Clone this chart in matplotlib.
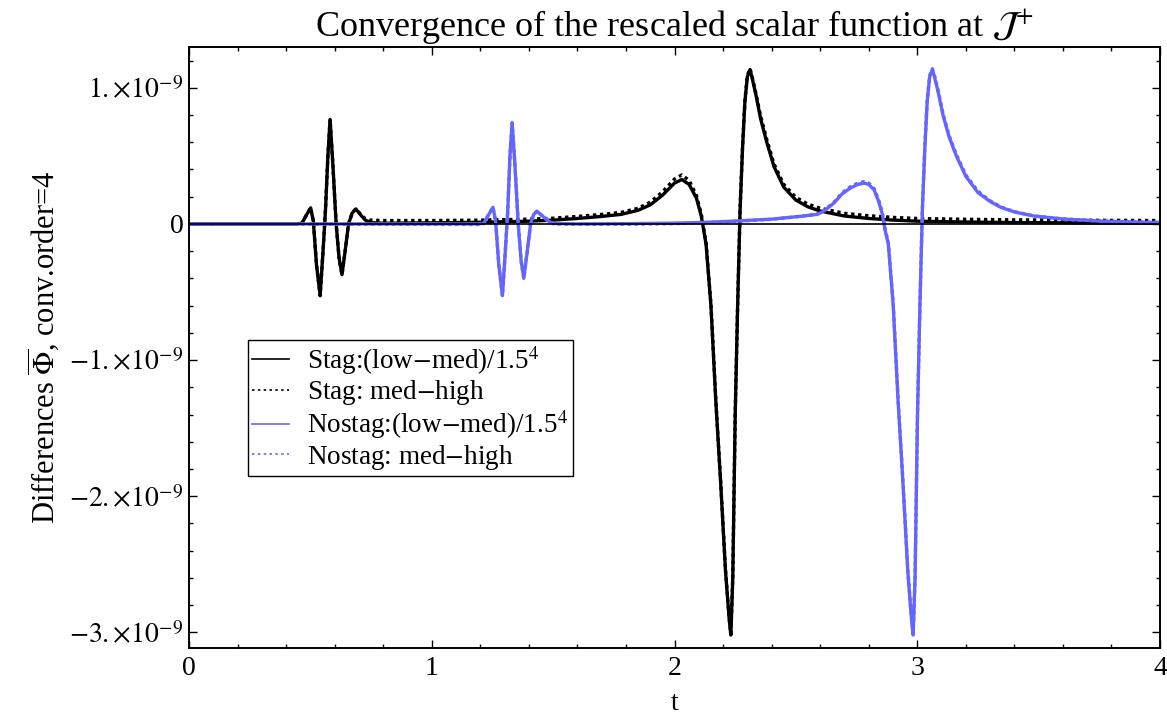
import matplotlib
matplotlib.use('Agg')
import matplotlib.pyplot as plt
import numpy as np
from matplotlib.ticker import MultipleLocator
from matplotlib.lines import Line2D

plt.rcParams['font.family'] = ['Liberation Serif', 'DejaVu Serif']
plt.rcParams['mathtext.fontset'] = 'stix'

# values in units of 1e-9
stag_t = [0, 0.44, 0.465, 0.485, 0.501, 0.512, 0.525, 0.540, 0.552, 0.562, 0.572, 0.581,
          0.592, 0.606, 0.618, 0.630, 0.643, 0.657, 0.672, 0.687, 0.705, 0.725, 0.746, 0.8,
          1.0, 1.2, 1.4, 1.5, 1.6, 1.7, 1.78, 1.85, 1.9, 1.95, 2.0, 2.03, 2.06, 2.09, 2.11,
          2.13, 2.15, 2.17, 2.19, 2.21, 2.225, 2.232, 2.24, 2.25, 2.26, 2.27, 2.28, 2.29,
          2.30, 2.311, 2.32, 2.335, 2.355, 2.38, 2.41, 2.45, 2.5, 2.55, 2.6, 2.7, 2.8, 2.9,
          3.0, 3.2, 3.4, 3.6, 3.8, 4.0]
stag_lowmed = [0, 0, 0.005, 0.07, 0.118, 0.02, -0.3, -0.527, -0.2, 0.1, 0.5, 0.767,
               0.45, 0.0, -0.25, -0.373, -0.2, 0.0, 0.08, 0.11, 0.07, 0.03, 0.01, 0.005,
               0.008, 0.012, 0.02, 0.028, 0.04, 0.055, 0.07, 0.1, 0.14, 0.21, 0.3, 0.326, 0.29, 0.19, 0.06,
               -0.15, -0.6, -1.3, -1.9, -2.55, -2.9, -3.02, -2.6, -1.4, -0.6, 0.1, 0.55, 0.9,
               1.08, 1.134, 1.07, 0.95, 0.77, 0.6, 0.42, 0.27, 0.175, 0.125, 0.095, 0.058, 0.04, 0.028,
               0.02, 0.014, 0.01, 0.008, 0.006, 0.005]
stag_medhigh = [0, 0, 0.005, 0.07, 0.118, 0.02, -0.3, -0.527, -0.2, 0.1, 0.5, 0.767,
                0.45, 0.0, -0.25, -0.373, -0.2, 0.0, 0.08, 0.11, 0.075, 0.04, 0.028, 0.025,
                0.025, 0.028, 0.035, 0.042, 0.055, 0.07, 0.085, 0.115, 0.16, 0.235, 0.33, 0.36, 0.32, 0.21, 0.075,
                -0.14, -0.59, -1.29, -1.89, -2.54, -2.89, -3.01, -2.59, -1.39, -0.59, 0.11, 0.56, 0.91,
                1.09, 1.14, 1.08, 0.96, 0.79, 0.62, 0.44, 0.29, 0.195, 0.145, 0.115, 0.078, 0.06, 0.048,
                0.04, 0.034, 0.03, 0.028, 0.026, 0.025]

nostag_t = [0, 1.19, 1.214, 1.235, 1.252, 1.263, 1.276, 1.291, 1.303, 1.313, 1.322, 1.331,
            1.342, 1.356, 1.368, 1.379, 1.392, 1.407, 1.42, 1.433, 1.455, 1.48, 1.502, 1.6,
            1.8, 2.0, 2.1, 2.24, 2.4, 2.52, 2.588, 2.62, 2.657, 2.69, 2.726, 2.755, 2.781,
            2.80, 2.822, 2.84, 2.855, 2.868, 2.881, 2.901, 2.921, 2.941, 2.961, 2.976, 2.983,
            2.991, 3.001, 3.011, 3.021, 3.031, 3.041, 3.051, 3.062, 3.071, 3.086, 3.106, 3.131,
            3.161, 3.2, 3.25, 3.3, 3.344, 3.4, 3.48, 3.6, 3.757, 3.9, 4.0]
nostag_lowmed = [0, 0, 0.005, 0.07, 0.122, 0.02, -0.3, -0.527, -0.2, 0.1, 0.5, 0.742,
                 0.45, 0.0, -0.27, -0.40, -0.22, 0.0, 0.07, 0.093, 0.06, 0.02, 0.003, 0.0,
                 0.002, 0.006, 0.01, 0.02, 0.035, 0.056, 0.07, 0.1, 0.154, 0.22, 0.265, 0.29, 0.30,
                 0.29, 0.25, 0.17, 0.08, -0.05, -0.15, -0.6, -1.3, -1.9, -2.55, -2.9, -3.02,
                 -2.6, -1.4, -0.6, 0.1, 0.55, 0.9, 1.08, 1.134, 1.08, 0.97, 0.8, 0.64,
                 0.5, 0.35, 0.23, 0.165, 0.122, 0.088, 0.058, 0.036, 0.02, 0.013, 0.01]
nostag_medhigh = [0, -0.004, 0.001, 0.07, 0.122, 0.02, -0.3, -0.527, -0.2, 0.1, 0.5, 0.742,
                  0.45, 0.0, -0.27, -0.40, -0.22, 0.0, 0.07, 0.093, 0.06, 0.02, 0.0, -0.003,
                  -0.002, 0.002, 0.007, 0.018, 0.034, 0.056, 0.072, 0.105, 0.16, 0.228, 0.275, 0.30, 0.31,
                  0.30, 0.26, 0.18, 0.09, -0.04, -0.14, -0.59, -1.29, -1.89, -2.54, -2.89, -3.01,
                  -2.59, -1.39, -0.59, 0.11, 0.56, 0.91, 1.09, 1.14, 1.09, 0.98, 0.81, 0.65,
                  0.51, 0.36, 0.24, 0.17, 0.125, 0.09, 0.059, 0.037, 0.021, 0.014, 0.011]

ytick_vals = [-3e-9, -2e-9, -1e-9, 0, 1e-9]
ytick_labels = [r'$-3.{\times}10^{-9}$', r'$-2.{\times}10^{-9}$', r'$-1.{\times}10^{-9}$', '0',
                r'$1.{\times}10^{-9}$']
labels = ['Stag:(low$-$med)/1.5$^4$', 'Stag: med$-$high',
          'Nostag:(low$-$med)/1.5$^4$', 'Nostag: med$-$high']

blue = '#6464ff'
fs = 20

fig = plt.figure(figsize=(11.67, 7.22), dpi=100)
ax = fig.add_axes([0.162, 0.1025, 0.832, 0.8325])

sc = 1e-9
ax.plot(stag_t, np.array(stag_lowmed) * sc, color='black', lw=2.4)
ax.plot(stag_t, np.array(stag_medhigh) * sc, color='black', lw=2.4, dashes=(1, 1.1))
ax.plot(nostag_t, np.array(nostag_lowmed) * sc, color=blue, lw=2.4)
ax.plot(nostag_t, np.array(nostag_medhigh) * sc, color=blue, lw=2.4, dashes=(1, 1.1))
ax.axhline(0, color='black', lw=1.2, zorder=5)

ax.set_xlim(0, 4)
ax.set_ylim(-3.115e-9, 1.30e-9)
ax.set_xticks([0, 1, 2, 3, 4])
ax.xaxis.set_minor_locator(MultipleLocator(0.2))
ax.set_yticks(ytick_vals)
ax.set_yticklabels(ytick_labels)
ax.yaxis.set_minor_locator(MultipleLocator(0.2e-9))
ax.tick_params(which='both', direction='in', top=True, right=True, width=1.0, labelsize=fs)
ax.tick_params(which='major', length=5.8)
ax.tick_params(which='minor', length=3.2)
ax.tick_params(axis='x', pad=6)
ax.tick_params(axis='y', pad=4)
for s in ax.spines.values():
    s.set_linewidth(1.4)

ax.set_xlabel('t', fontsize=fs, labelpad=7)
ax.set_ylabel(r'Differences $\overline{\Phi}$, conv.order=4', fontsize=22, labelpad=6)
ax.set_title(r'Convergence of the rescaled scalar function at $\mathcal{J}^{+}$', fontsize=26, pad=6)

handles = [Line2D([], [], color='black', lw=1.2),
           Line2D([], [], color='black', lw=1.2, dashes=(1.5, 2)),
           Line2D([], [], color=blue, lw=1.2),
           Line2D([], [], color=blue, lw=1.2, dashes=(1.5, 2))]
leg = ax.legend(handles, labels, loc='lower left', bbox_to_anchor=(0.0608, 0.2867),
                borderaxespad=0, fontsize=19.5, fancybox=False, framealpha=1,
                edgecolor='black', handlelength=1.37, handletextpad=0.67,
                labelspacing=0.05, borderpad=0.15)
leg.get_frame().set_linewidth(1.0)

fig.savefig('out.png', dpi=100)
